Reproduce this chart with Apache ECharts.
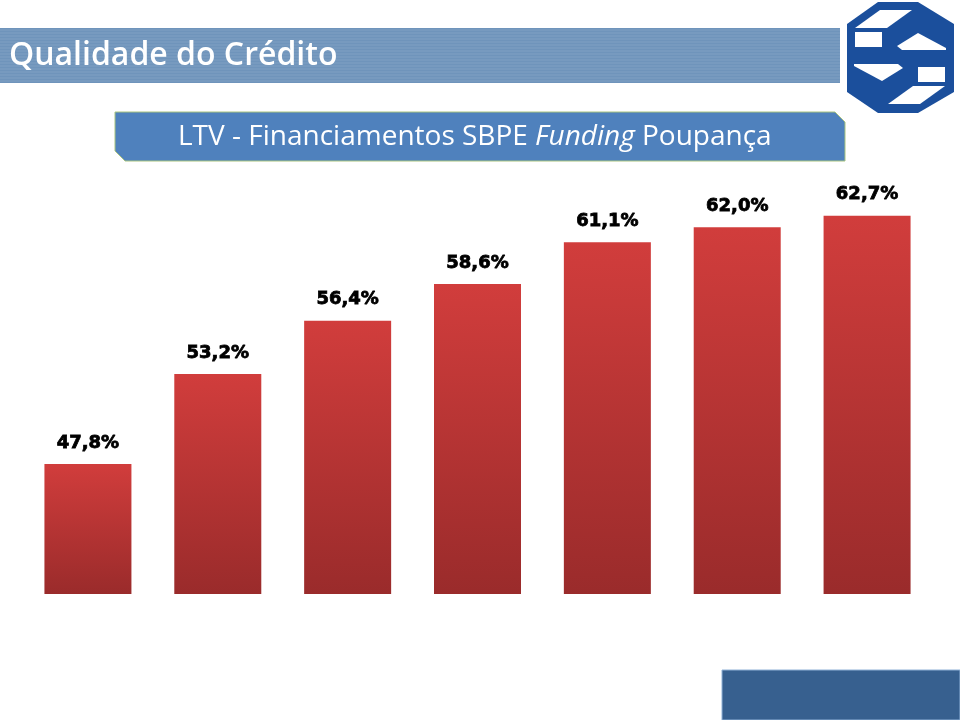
<!DOCTYPE html>
<html>
<head>
<meta charset="utf-8">
<script src="https://cdn.jsdelivr.net/npm/echarts@6/dist/echarts.min.js"></script>
<style>
  html, body { margin: 0; padding: 0; background: #fff; }
  #chart { width: 960px; height: 720px; }
</style>
</head>
<body>
<div id="chart"></div>
<script>
// periodos (sem rotulo visivel no slide)
var categories = ['1', '2', '3', '4', '5', '6', '7'];
var ltvValues = [47.8, 53.2, 56.4, 58.6, 61.1, 62.0, 62.7];
var yRange = [40, 70];

var blue = '#1b4f9c';
function mirror(pts) {
    return pts.map(function (p) { return [1800 - p[0], 114 - p[1]]; });
}
var logoA = [[855, 28], [880, 10], [912, 10], [887, 28]];
var logoC = [[897, 46], [918, 33], [946, 48], [946, 50], [902, 50]];

var stripes = [];
for (var y = 30; y < 83; y += 3) {
    stripes.push({
        type: 'line', silent: true,
        shape: { x1: 0, y1: y, x2: 840, y2: y },
        style: { stroke: 'rgba(255,255,255,0.12)', lineWidth: 1 }
    });
}

var chart = echarts.init(document.getElementById('chart'));
chart.setOption({
    animation: false,
    grid: { left: 23, right: 28, top: 94, bottom: 126 },
    xAxis: {
        type: 'category',
        data: categories,
        show: false
    },
    yAxis: {
        type: 'value',
        min: yRange[0],
        max: yRange[1],
        show: false
    },
    series: [{
        type: 'bar',
        data: ltvValues,
        barWidth: 87,
        itemStyle: {
            color: new echarts.graphic.LinearGradient(0, 0, 0, 1, [
                { offset: 0, color: '#d13d3c' },
                { offset: 1, color: '#9a2b2b' }
            ])
        },
        label: {
            show: true,
            position: 'top',
            distance: 12,
            fontFamily: 'DejaVu Sans',
            fontWeight: 'bold',
            fontSize: 18,
            color: '#000',
            textBorderColor: '#000',
            textBorderWidth: 0.8,
            formatter: function (p) { return p.value.toFixed(1).replace('.', ',') + '%'; }
        }
    }],
    graphic: [
        { type: 'rect', silent: true, shape: { x: 0, y: 28, width: 840, height: 55 },
          style: { fill: '#6f94bb' } }
    ].concat(stripes).concat([
        { type: 'text', silent: true, left: 9, top: 40,
          style: { text: 'Qualidade do Crédito', fill: '#fff', font: '600 32px "Open Sans"' } },
        { type: 'polygon', silent: true,
          shape: { points: [[115, 112], [835, 112], [845, 122], [845, 161], [125, 161], [115, 151]] },
          style: { fill: '#4f81bd', stroke: '#a9c47f', lineWidth: 1 } },
        { type: 'text', silent: true, left: 178, top: 123,
          style: {
              text: '{n|LTV - Financiamentos SBPE }{i|Funding}{n| Poupança}',
              rich: {
                  n: { fill: '#fff', font: '28px "Open Sans"' },
                  i: { fill: '#fff', font: 'italic 28px "Open Sans"' }
              }
          } },
        // logo
        { type: 'polygon', silent: true,
          shape: { points: [[847, 24], [878, 2], [918, 2], [954, 24], [954, 92], [918, 113], [878, 113], [847, 92]] },
          style: { fill: blue } },
        { type: 'polygon', silent: true, shape: { points: logoA }, style: { fill: '#fff' } },
        { type: 'rect', silent: true, shape: { x: 855, y: 32, width: 27, height: 15 }, style: { fill: '#fff' } },
        { type: 'polygon', silent: true, shape: { points: logoC }, style: { fill: '#fff' } },
        { type: 'polygon', silent: true, shape: { points: mirror(logoA) }, style: { fill: '#fff' } },
        { type: 'rect', silent: true, shape: { x: 918, y: 67, width: 27, height: 15 }, style: { fill: '#fff' } },
        { type: 'polygon', silent: true, shape: { points: mirror(logoC) }, style: { fill: '#fff' } },
        // rodape
        { type: 'rect', silent: true, shape: { x: 722, y: 670, width: 238, height: 50 },
          style: { fill: '#37608f', stroke: '#8fb0d6', lineWidth: 1 } }
    ])
});
</script>
</body>
</html>
